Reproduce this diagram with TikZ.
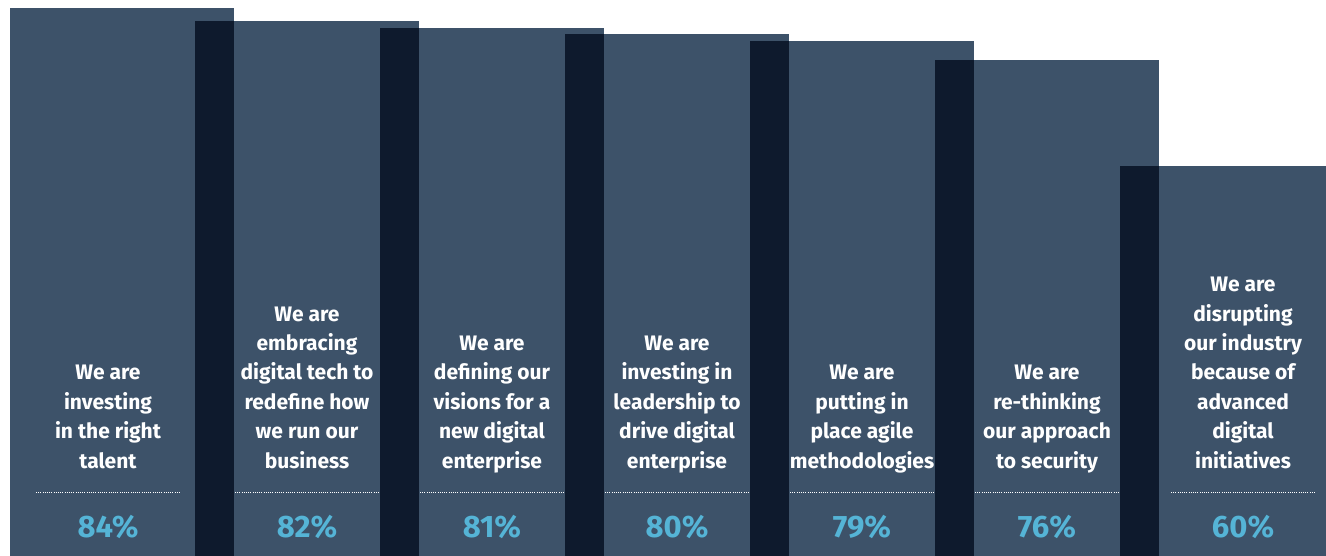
\documentclass[tikz,border=0pt]{standalone}
\usepackage{fontspec}
\setmainfont{Fira Sans}
\definecolor{barblue}{HTML}{3D5269}
\definecolor{bardark}{HTML}{0E1A2D}
\definecolor{pctblue}{HTML}{55B4D6}
\begin{document}
\begin{tikzpicture}[x=1pt,y=-1pt,
  lbl/.style={text=white,font=\fontsize{21}{29.4}\selectfont\bfseries,align=center,anchor=base,inner sep=0pt},
  pct/.style={text=pctblue,font=\fontsize{31}{32}\selectfont\bfseries,anchor=base,inner sep=0pt}]
  \useasboundingbox (0,0) rectangle (1326,555);
  \clip (0,0) rectangle (1326,555);
  % bars
  \foreach \i/\t in {0/8,1/21,2/28,3/34,4/41,5/60,6/166}
    \fill[barblue] (10+185*\i,\t) rectangle ++(224,560-\t);
  % overlaps
  \foreach \i/\t in {1/21,2/28,3/34,4/41,5/60,6/166}
    \fill[bardark] (10+185*\i,\t) rectangle (49+185*\i,560);
  % labels
  \foreach \i/\cx/\txt/\p in {
      1/108/{We are\\investing\\in the right\\talent}/84,
      2/307/{We are\\embracing\\digital tech to\\redefine how\\we run our\\business}/82,
      3/492/{We are\\defining our\\visions for a\\new digital\\enterprise}/81,
      4/677/{We are\\investing in\\leadership to\\drive digital\\enterprise}/80,
      5/862/{We are\\putting in\\place agile\\methodologies}/79,
      6/1047/{We are\\re-thinking\\our approach\\to security}/76,
      7/1243/{We are\\disrupting\\our industry\\because of\\advanced\\digital\\initiatives}/60} {
    \node[lbl] (t\i) at (\cx,468) {\txt};
    \node[pct] (p\i) at (\cx,537) {\p\%};
    \draw[white,line width=1pt,dash pattern=on 1pt off 1.2pt] (\cx-72,492) -- (\cx+72,492);
  }
\end{tikzpicture}
\end{document}
